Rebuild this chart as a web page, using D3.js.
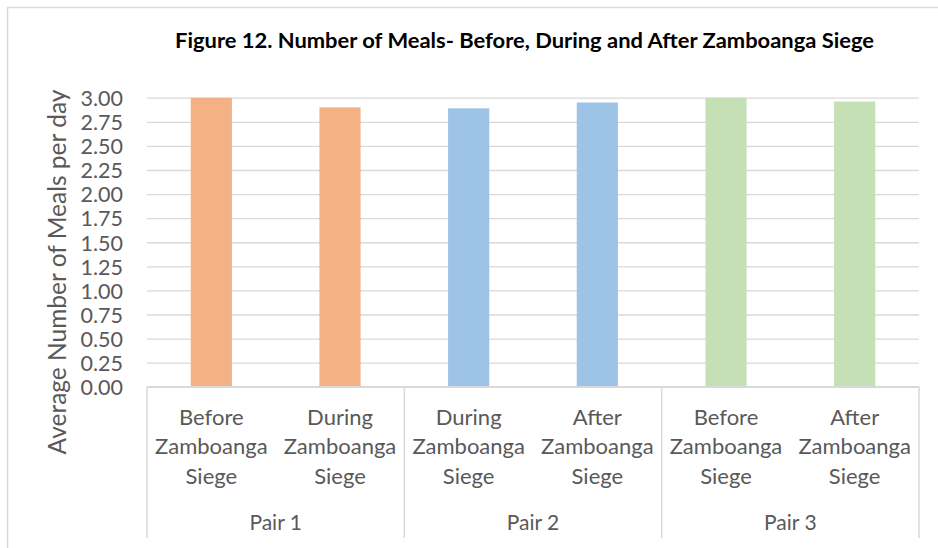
<!DOCTYPE html>
<html>
<head>
<meta charset="utf-8">
<script src="https://cdn.jsdelivr.net/npm/d3@7"></script>
<style>
  body { margin: 0; background: #fff; }
  text { font-family: Lato, "Open Sans", sans-serif; fill: #595959; }
</style>
</head>
<body>
<div id="chart"></div>
<script>
// DATA
const PAIRS = ["Pair 1", "Pair 2", "Pair 3"];
const CATEGORIES = [
    "Before Zamboanga Siege", "During Zamboanga Siege",
    "During Zamboanga Siege", "After Zamboanga Siege",
    "Before Zamboanga Siege", "After Zamboanga Siege"
];
const PAIR_OF = [0, 0, 1, 1, 2, 2];
const VALUES = [3.00, 2.90, 2.89, 2.95, 3.00, 2.96];
const Y_TICKS = [0, 0.25, 0.5, 0.75, 1, 1.25, 1.5, 1.75, 2, 2.25, 2.5, 2.75, 3];
const PAIR_COLORS = ["#F4B183", "#9DC3E6", "#C5E0B4"];

const W = 938, H = 548;
const PLOT = { left: 147, right: 919, top: 97.7, bottom: 386.8 };

const svg = d3.select("#chart")
    .append("svg")
        .attr("width", W)
        .attr("height", H);

// CHART BORDER
svg.append("rect")
    .attr("x", 7.5).attr("y", 7.5)
    .attr("width", W).attr("height", H)
    .attr("fill", "none")
    .attr("stroke", "#d9d9d9")
    .attr("stroke-width", 1.5);

// TITLE
svg.append("text")
    .attr("x", 175)
    .attr("y", 48)
    .attr("textLength", 699)
    .attr("lengthAdjust", "spacingAndGlyphs")
    .style("font-size", "21px")
    .style("font-weight", "bold")
    .style("fill", "#000")
    .text("Figure 12. Number of Meals- Before, During and After Zamboanga Siege");

// SCALES
const idx = d3.range(CATEGORIES.length);
const x = d3.scaleBand()
    .domain(idx)
    .range([PLOT.left, PLOT.right])
    .paddingInner(0.68)
    .paddingOuter(0.34);

const y = d3.scaleLinear()
    .domain([0, 3])
    .range([PLOT.bottom, PLOT.top]);

// GRIDLINES + Y LABELS
const yAxis = svg.append("g")
    .attr("transform", `translate(${PLOT.left}, 0)`)
    .call(d3.axisLeft(y)
        .tickValues(Y_TICKS)
        .tickFormat(d3.format(".2f"))
        .tickSize(-(PLOT.right - PLOT.left))
        .tickPadding(24));
yAxis.select(".domain").remove();
yAxis.selectAll(".tick line")
    .attr("stroke", "#d9d9d9")
    .attr("stroke-width", 1.3);
yAxis.selectAll(".tick text")
    .attr("dy", "0.36em")
    .style("font-size", "21.5px")
    .style("font-family", "Lato, sans-serif")
    .attr("fill", "#595959");

// BARS
svg.selectAll("rect.bar")
    .data(idx)
    .enter()
    .append("rect")
        .attr("class", "bar")
        .attr("x", i => x(i))
        .attr("y", i => y(VALUES[i]))
        .attr("width", x.bandwidth())
        .attr("height", i => y(0) - y(VALUES[i]))
        .attr("fill", i => PAIR_COLORS[PAIR_OF[i]]);

// X AXIS (two levels)
const axisBottom = 538;
svg.append("line")
    .attr("x1", PLOT.left).attr("x2", PLOT.right)
    .attr("y1", PLOT.bottom).attr("y2", PLOT.bottom)
    .attr("stroke", "#d9d9d9").attr("stroke-width", 1.5);

const step = x.step();
const pairEdges = d3.range(PAIRS.length + 1)
    .map(p => p === PAIRS.length ? PLOT.right : x(p * 2) - x.paddingOuter() * step);
svg.selectAll("line.sep")
    .data(pairEdges)
    .enter()
    .append("line")
        .attr("class", "sep")
        .attr("x1", d => d).attr("x2", d => d)
        .attr("y1", PLOT.bottom).attr("y2", axisBottom)
        .attr("stroke", "#d9d9d9").attr("stroke-width", 1.5);

const catLabels = svg.selectAll("text.cat")
    .data(idx)
    .enter()
    .append("text")
        .attr("class", "cat")
        .attr("text-anchor", "middle")
        .style("font-size", "22px");
catLabels.each(function(i) {
    const words = CATEGORIES[i].split(" ");
    d3.select(this).selectAll("tspan")
        .data(words)
        .enter()
        .append("tspan")
            .attr("x", x(i) + x.bandwidth() / 2)
            .attr("y", (d, k) => 425 + k * 29.3)
            .text(d => d);
});

svg.selectAll("text.pair")
    .data(PAIRS)
    .enter()
    .append("text")
        .attr("class", "pair")
        .attr("text-anchor", "middle")
        .attr("x", (d, p) => (pairEdges[p] + pairEdges[p + 1]) / 2)
        .attr("y", 530)
        .style("font-size", "21px")
        .text(d => d);

// Y TITLE
svg.append("text")
    .attr("transform", "rotate(-90)")
    .attr("x", -272)
    .attr("y", 66)
    .attr("text-anchor", "middle")
    .style("font-size", "24.5px")
    .text("Average Number of Meals per day");
</script>
</body>
</html>
